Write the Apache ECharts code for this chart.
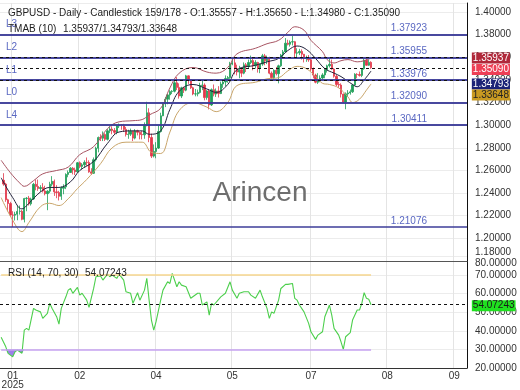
<!DOCTYPE html>
<html><head><meta charset="utf-8">
<script src="https://cdn.jsdelivr.net/npm/echarts@6/dist/echarts.min.js"></script>
<style>html,body{margin:0;padding:0;background:#fff}#c{width:520px;height:390px}</style>
</head><body><div id="c"></div>
<script>
// ---------- data ----------
const slotCount = 202;      // category slots on the time axis (incl. empty future)
const firstSlot = 1;        // slot of first daily bar
const open = [1.2513,1.2480,1.2341,1.2308,1.2207,1.2205,1.2213,1.2238,1.2239,1.2168,
1.2352,1.2355,1.2305,1.2348,1.2478,1.2459,1.2441,1.2449,1.2419,1.2395,
1.2417,1.2479,1.2504,1.2411,1.2405,1.2372,1.2443,1.2455,1.2565,1.2582,
1.2620,1.2605,1.2588,1.2668,1.2636,1.2650,1.2672,1.2670,1.2588,1.2575,
1.2695,1.2797,1.2891,1.2885,1.2918,1.2875,1.2950,1.2966,1.2953,1.2937,
1.2993,1.3000,1.2999,1.2963,1.2918,1.2921,1.2947,1.2886,1.2950,1.2937,
1.2918,1.2915,1.2997,1.3110,1.2891,1.2727,1.2768,1.2798,1.2944,1.3083,
1.3188,1.3230,1.3268,1.3297,1.3300,1.3375,1.3334,1.3258,1.3330,1.3310,
1.3436,1.3402,1.3331,1.3276,1.3277,1.3290,1.3352,1.3355,1.3244,1.3302,
1.3179,1.3314,1.3275,1.3303,1.3280,1.3364,1.3382,1.3412,1.3421,1.3540,
1.3551,1.3500,1.3470,1.3490,1.3460,1.3534,1.3518,1.3554,1.3571,1.3525,
1.3555,1.3500,1.3540,1.3613,1.3570,1.3582,1.3460,1.3420,1.3485,1.3455,
1.3525,1.3620,1.3648,1.3725,1.3715,1.3735,1.3738,1.3637,1.3640,1.3652,
1.3627,1.3590,1.3595,1.3578,1.3497,1.3443,1.3380,1.3404,1.3417,1.3444,
1.3490,1.3525,1.3538,1.3496,1.3433,1.3360,1.3355,1.3275,1.3205,1.3277,
1.3285,1.3295,1.3355,1.3450,1.3448,1.3440,1.3500,1.3575,1.3530,1.35557];
const close = [1.2480,1.2341,1.2308,1.2207,1.2205,1.2213,1.2238,1.2239,1.2168,1.2352,
1.2355,1.2305,1.2348,1.2478,1.2459,1.2441,1.2449,1.2419,1.2395,1.2417,
1.2479,1.2504,1.2411,1.2405,1.2372,1.2443,1.2455,1.2565,1.2582,1.2620,
1.2605,1.2588,1.2668,1.2636,1.2650,1.2672,1.2670,1.2588,1.2575,1.2695,
1.2797,1.2891,1.2885,1.2918,1.2875,1.2950,1.2966,1.2953,1.2937,1.2993,
1.3000,1.2999,1.2963,1.2918,1.2921,1.2947,1.2886,1.2950,1.2937,1.2918,
1.2915,1.2997,1.3110,1.2891,1.2727,1.2768,1.2798,1.2944,1.3083,1.3188,
1.3230,1.3268,1.3297,1.3300,1.3375,1.3334,1.3258,1.3330,1.3310,1.3436,
1.3402,1.3331,1.3276,1.3277,1.3290,1.3352,1.3355,1.3244,1.3302,1.3179,
1.3314,1.3275,1.3303,1.3280,1.3364,1.3382,1.3412,1.3421,1.3540,1.3551,
1.3500,1.3470,1.3490,1.3460,1.3534,1.3518,1.3554,1.3571,1.3525,1.3555,
1.3500,1.3540,1.3613,1.3570,1.3582,1.3460,1.3420,1.3485,1.3455,1.3525,
1.3620,1.3648,1.3725,1.3715,1.3735,1.3738,1.3637,1.3640,1.3652,1.3627,
1.3590,1.3595,1.3578,1.3497,1.3443,1.3380,1.3404,1.3417,1.3444,1.3490,
1.3525,1.3538,1.3496,1.3433,1.3360,1.3355,1.3275,1.3205,1.3277,1.3285,
1.3295,1.3355,1.3450,1.3448,1.3440,1.3500,1.3575,1.3530,1.3555,1.35090];
const low = [1.2465,1.2323,1.2239,1.2191,1.2100,1.2158,1.2160,1.2210,1.2160,1.2141,
1.2240,1.2290,1.2290,1.2340,1.2425,1.2420,1.2410,1.2405,1.2380,1.2249,
1.2400,1.2460,1.2375,1.2355,1.2335,1.2340,1.2390,1.2435,1.2540,1.2580,
1.2565,1.2560,1.2580,1.2620,1.2610,1.2625,1.2640,1.2580,1.2560,1.2570,
1.2680,1.2760,1.2860,1.2860,1.2860,1.2865,1.2930,1.2920,1.2920,1.2920,
1.2975,1.2960,1.2940,1.2900,1.2880,1.2905,1.2860,1.2875,1.2910,1.2875,
1.2875,1.2880,1.2990,1.2850,1.2710,1.2715,1.2708,1.2790,1.2935,1.3080,
1.3160,1.3185,1.3225,1.3275,1.3290,1.3310,1.3235,1.3240,1.3285,1.3300,
1.3365,1.3320,1.3265,1.3255,1.3255,1.3280,1.3310,1.3220,1.3225,1.3140,
1.3170,1.3255,1.3250,1.3245,1.3275,1.3330,1.3345,1.3375,1.3410,1.3530,
1.3450,1.3440,1.3415,1.3425,1.3450,1.3470,1.3500,1.3540,1.3485,1.3500,
1.3465,1.3460,1.3525,1.3530,1.3540,1.3450,1.3410,1.3405,1.3440,1.3370,
1.3515,1.3590,1.3645,1.3705,1.3695,1.3705,1.3600,1.3600,1.3620,1.3580,
1.3555,1.3560,1.3560,1.3480,1.3415,1.3370,1.3365,1.3380,1.3405,1.3415,
1.3465,1.3510,1.3490,1.3420,1.3345,1.3330,1.3245,1.3195,1.3141,1.3250,
1.3270,1.3285,1.3350,1.3415,1.3430,1.3425,1.3490,1.3525,1.3525,1.34980];
const high = [1.2576,1.2490,1.2350,1.2323,1.2240,1.2235,1.2290,1.2290,1.2250,1.2358,
1.2365,1.2375,1.2360,1.2490,1.2520,1.2520,1.2470,1.2488,1.2465,1.2426,
1.2500,1.2550,1.2520,1.2470,1.2420,1.2460,1.2478,1.2575,1.2600,1.2630,
1.2630,1.2625,1.2675,1.2680,1.2665,1.2690,1.2715,1.2690,1.2620,1.2715,
1.2810,1.2900,1.2920,1.2945,1.2930,1.2965,1.2990,1.2990,1.2975,1.3000,
1.3015,1.3010,1.3012,1.2985,1.2960,1.2970,1.2950,1.2965,1.2960,1.2945,
1.2950,1.3025,1.3207,1.3150,1.2925,1.2830,1.2850,1.3000,1.3110,1.3200,
1.3250,1.3280,1.3310,1.3310,1.3390,1.3425,1.3370,1.3340,1.3340,1.3445,
1.3440,1.3405,1.3340,1.3320,1.3315,1.3375,1.3400,1.3370,1.3310,1.3320,
1.3325,1.3360,1.3325,1.3345,1.3385,1.3400,1.3440,1.3435,1.3560,1.3590,
1.3595,1.3535,1.3525,1.3505,1.3555,1.3550,1.3580,1.3615,1.3600,1.3575,
1.3560,1.3545,1.3630,1.3630,1.3615,1.3605,1.3475,1.3495,1.3515,1.3535,
1.3630,1.3665,1.3770,1.3755,1.3750,1.3788,1.3745,1.3680,1.3675,1.3670,
1.3630,1.3615,1.3620,1.3590,1.3510,1.3455,1.3460,1.3440,1.3460,1.3500,
1.3535,1.3590,1.3580,1.3505,1.3445,1.3385,1.3370,1.3280,1.3290,1.3310,
1.3315,1.3365,1.3460,1.3460,1.3475,1.3505,1.3590,1.3595,1.3580,1.35650];

// TMA bands, read at anchor slots [slot, value]
const tmaUpper = [[0,1.269],[4,1.258],[8,1.249],[10,1.246],[14,1.251],[18,1.257],[24,1.260],[29,1.263],[34,1.274],[40,1.281],[46,1.297],[51,1.303],[57,1.304],[61,1.305],[64,1.309],[69,1.315],[73,1.333],[77,1.346],[83,1.351],[89,1.347],[93,1.346],[98,1.351],[102,1.363],[110,1.368],[115,1.372],[120,1.375],[124,1.382],[127,1.387],[131,1.384],[134,1.375],[139,1.365],[141,1.358],[144,1.355],[147,1.357],[150,1.358],[154,1.356],[157,1.357],[160,1.35937]];
const tmaMiddle = [[0,1.2535],[5,1.236],[9,1.226],[12,1.231],[17,1.241],[21,1.245],[25,1.245],[30,1.250],[34,1.260],[40,1.268],[46,1.284],[51,1.294],[57,1.295],[61,1.295],[64,1.292],[69,1.295],[73,1.314],[77,1.330],[83,1.336],[89,1.332],[93,1.329],[98,1.336],[102,1.349],[110,1.353],[115,1.356],[120,1.359],[124,1.366],[128,1.370],[132,1.367],[136,1.359],[140,1.350],[144,1.346],[147,1.343],[152,1.336],[154,1.334],[157,1.340],[160,1.34793]];
const tmaLower = [[0,1.236],[5,1.216],[9,1.206],[12,1.214],[17,1.228],[21,1.231],[25,1.229],[29,1.235],[33,1.244],[37,1.252],[43,1.266],[48,1.280],[54,1.285],[61,1.285],[65,1.276],[69,1.275],[73,1.294],[77,1.313],[83,1.320],[89,1.316],[93,1.312],[98,1.320],[102,1.335],[110,1.338],[115,1.341],[120,1.342],[124,1.348],[128,1.352],[132,1.350],[136,1.343],[139,1.337],[142,1.336],[146,1.333],[150,1.325],[152,1.320],[155,1.323],[158,1.331],[160,1.33648]];

// RSI(14) read at anchor slots [slot, value]
const rsi = [[0,36.5],[2,31.4],[3,27.9],[5,26],[6,28.7],[7,29.6],[9,27.9],[10,40.4],[11,41.3],[12,40.4],[14,52.1],[15,51.2],[17,50.2],[18,46.7],[20,49.4],[21,54.8],[22,52.1],[24,47.6],[25,43.6],[26,52.1],[28,58.3],[29,61.9],[30,62.8],[31,60.2],[33,63.4],[34,59.2],[35,60.2],[37,56.5],[38,52.6],[40,62.8],[41,69.1],[43,69.5],[44,67.3],[46,70.5],[47,69.1],[48,70],[50,68.2],[51,70.5],[53,67.3],[54,61],[56,60.2],[57,54.8],[59,60.5],[60,56.5],[62,61.9],[63,68.2],[64,56.5],[65,45.8],[66,40.4],[67,44.9],[69,56.5],[70,61.9],[72,66.4],[73,65.5],[74,70.9],[76,63.7],[77,66.4],[78,64.6],[80,63.7],[82,57.5],[85,60.2],[86,60.2],[87,53.9],[89,55.6],[90,48.5],[91,54.8],[92,53.9],[95,58.3],[97,60.2],[99,66.4],[100,61.9],[102,57.5],[103,60.2],[105,61],[107,61],[108,59.2],[110,57.5],[112,61.9],[113,58.3],[115,52.1],[116,46.7],[117,50.2],[118,49.4],[120,56.5],[121,62.8],[123,65],[124,65],[126,65.5],[127,57.5],[128,56.5],[129,53.9],[131,50.2],[133,44],[134,39.5],[136,35.4],[137,37.7],[139,39.5],[140,47.6],[142,53.9],[143,48.5],[144,41.3],[146,37.7],[147,34.1],[148,30],[149,36.8],[151,39],[152,45.8],[154,51.2],[155,51.2],[156,54.8],[157,60.5],[158,57.5],[159,57],[160,54.07243]];
const rsiLast = 54.07243;
const rsiLevels = [70, 30];

const tickSlots = [5, 34, 67, 100, 134, 167, 196];
const tickLabels = ['01\n2025', '02', '04', '05', '07', '08', '09'];

const levelNames = ['L3', 'L2', 'L1', 'L0', 'L4', ''];
const levelValues = [1.37923, 1.35955, 1.33976, 1.32090, 1.30411, 1.21076];
const markerValues = [1.35937, 1.35090, 1.34793, 1.33648];   // TMA upper, close, TMA mid, TMA lower

const headerLine1a = 'GBPUSD - Daily - Candlestick';
const headerLine1b = '159/178 - O:1.35557 - H:1.35650 - L:1.34980 - C:1.35090';
const headerLine2a = 'TMAB (10)';
const headerLine2b = '1.35937/1.34793/1.33648';
const rsiTitle = 'RSI (14, 70, 30)';
const watermark = 'Arincen';

// ---------- styles ----------
const FONT = 'Liberation Sans, Arial, sans-serif';
const markerStyles = [
  {bg:'#b0283a', fg:'#ffffff', shift:0},
  {bg:'#ee3f55', fg:'#ffffff', shift:2},
  {bg:'#1c2377', fg:'#ffffff', shift:13},
  {bg:'#c99a22', fg:'#222222', shift:11}
];

const categories = Array.from({length: slotCount}, (_, i) => String(i));
const tickMap = {};
tickSlots.forEach((s, i) => { tickMap[s] = tickLabels[i]; });
const isTick = (i) => tickMap[i] !== undefined;

const candleData = open.map((o, i) => [i + firstSlot, o, close[i], low[i], high[i]]);
const lastSlot = firstSlot + close.length - 1;

const levelColor = '#3c3c98';
const levelTextColor = '#5a68c2';
const mlData = [];
levelValues.forEach((v, i) => {
  if (levelNames[i]) {
    mlData.push({yAxis: v, lineStyle: {color: levelColor, width: 1.6, type: 'solid'},
      label: {show: true, position: 'insideStartTop', distance: [6, 5], formatter: levelNames[i],
              color: levelTextColor, fontSize: 10, fontFamily: FONT}});
  }
  mlData.push({yAxis: v, lineStyle: {color: levelColor, width: 1.6, type: 'solid'},
    label: {show: true, position: 'insideEndTop', distance: [40, 1], formatter: v.toFixed(5),
            color: levelTextColor, fontSize: 10, fontFamily: FONT}});
});
markerValues.forEach((v) => {
  mlData.push({yAxis: v, lineStyle: {color: '#111', width: 1, type: [3, 3]}, label: {show: false}});
});

const rsiMl = [
  [{coord: [0, rsiLevels[0]]}, {coord: [lastSlot, rsiLevels[0]]}],
  [{coord: [0, rsiLevels[1]]}, {coord: [lastSlot, rsiLevels[1]]}],
  {yAxis: rsiLast, lineStyle: {color: '#111', width: 1, type: [3, 3]}}
];
rsiMl[0][0].lineStyle = {color: '#f6d68e', width: 1.5, type: 'solid'};
rsiMl[1][0].lineStyle = {color: '#c6a2f0', width: 1.5, type: 'solid'};

const chart = echarts.init(document.getElementById('c'), null, {renderer: 'canvas'});
const option = {
  animation: false,
  backgroundColor: '#ffffff',
  textStyle: {fontFamily: FONT},
  grid: [
    {left: 0, right: 53, top: 3, height: 258, outerBoundsMode: 'none'},
    {left: 0, right: 53, top: 256.5, height: 111.5, outerBoundsMode: 'none'}
  ],
  xAxis: [
    {type: 'category', gridIndex: 0, data: categories, boundaryGap: true,
     axisLabel: {show: false}, axisTick: {show: false},
     axisLine: {show: true, lineStyle: {color: '#555', width: 1}},
     splitLine: {show: true, interval: (i) => isTick(i), lineStyle: {color: '#e4e4e4', width: 1}}},
    {type: 'category', gridIndex: 1, data: categories, boundaryGap: true,
     axisTick: {show: false},
     axisLine: {show: true, lineStyle: {color: '#333', width: 1}},
     axisLabel: {show: true, interval: (i) => isTick(i), formatter: (v, i) => tickMap[i] || '',
                 color: '#333', fontSize: 10, lineHeight: 9, margin: 4, fontFamily: FONT},
     splitLine: {show: true, interval: (i) => isTick(i), lineStyle: {color: '#e4e4e4', width: 1}}}
  ],
  yAxis: [
    {type: 'value', gridIndex: 0, position: 'right', min: 1.18, max: 1.408, interval: 0.02,
     axisLine: {show: true, lineStyle: {color: '#111', width: 1}}, axisTick: {show: false},
     splitLine: {show: true, lineStyle: {color: '#ececec', width: 1}},
     axisLabel: {showMaxLabel: false, showMinLabel: true, margin: 8, color: '#333', fontSize: 10, fontFamily: FONT,
       formatter: (v) => Math.abs(v - 1.18) < 1e-9 ? '{n|' + v.toFixed(5) + '}\n{s| }' : '{n|' + v.toFixed(5) + '}',
       rich: {n: {fontSize: 10, color: '#333', lineHeight: 10, fontFamily: FONT}, s: {fontSize: 1, lineHeight: 18}}}},
    {type: 'value', gridIndex: 1, position: 'right', min: 20, max: 80, interval: 10,
     axisLine: {show: true, lineStyle: {color: '#111', width: 1}}, axisTick: {show: false},
     splitLine: {show: true, lineStyle: {color: '#ececec', width: 1}},
     axisLabel: {showMaxLabel: true, margin: 8, color: '#333', fontSize: 10, fontFamily: FONT,
       formatter: (v) => Math.abs(v - 80) < 1e-9 ? '{s| }\n{n|' + v.toFixed(5) + '}' : '{n|' + v.toFixed(5) + '}',
       rich: {n: {fontSize: 10, color: '#333', lineHeight: 10, fontFamily: FONT}, s: {fontSize: 1, lineHeight: 13}}}}
  ],
  series: [
    {type: 'candlestick', xAxisIndex: 0, yAxisIndex: 0, data: candleData,
     encode: {x: 0, y: [1, 2, 3, 4]}, barWidth: 1.8,
     itemStyle: {color: '#1f9e58', color0: '#e2374a', borderColor: '#1f9e58', borderColor0: '#e2374a', borderWidth: 0.8},
     markLine: {silent: true, symbol: ['none', 'none'], animation: false, data: mlData}},
    {type: 'line', name: 'upper', xAxisIndex: 0, yAxisIndex: 0, data: tmaUpper, smooth: 0.4,
     showSymbol: false, lineStyle: {color: '#a85563', width: 1}},
    {type: 'line', name: 'middle', xAxisIndex: 0, yAxisIndex: 0, data: tmaMiddle, smooth: 0.4,
     showSymbol: false, lineStyle: {color: '#22223c', width: 1}},
    {type: 'line', name: 'lower', xAxisIndex: 0, yAxisIndex: 0, data: tmaLower, smooth: 0.4,
     showSymbol: false, lineStyle: {color: '#c9a56a', width: 1}},
    {type: 'line', name: 'rsiFill', xAxisIndex: 1, yAxisIndex: 1,
     data: rsi.map(p => [p[0], Math.min(p[1], 30)]), showSymbol: false,
     lineStyle: {width: 0, opacity: 0}, areaStyle: {origin: 30, color: '#9c80ea', opacity: 1}},
    {type: 'line', name: 'rsi', xAxisIndex: 1, yAxisIndex: 1, data: rsi, showSymbol: false,
     lineStyle: {color: '#4ccf4c', width: 1.1},
     markLine: {silent: true, symbol: ['none', 'none'], animation: false, label: {show: false}, data: rsiMl}}
  ],
  graphic: [
    {type: 'text', z: 100, style: {x: 260, y: 193, text: watermark, align: 'center', verticalAlign: 'middle',
      font: '28px ' + FONT, fill: '#6e6e6e'}},
    {type: 'text', z: 100, style: {x: 8, y: 13, text: headerLine1a, verticalAlign: 'middle', font: '10px ' + FONT, fill: '#222'}},
    {type: 'text', z: 100, style: {x: 145, y: 13, text: headerLine1b, verticalAlign: 'middle', font: '10px ' + FONT, fill: '#222'}},
    {type: 'text', z: 100, style: {x: 8, y: 29.5, text: headerLine2a, verticalAlign: 'middle', font: '10px ' + FONT, fill: '#222'}},
    {type: 'text', z: 100, style: {x: 63, y: 29.5, text: headerLine2b, verticalAlign: 'middle', font: '10px ' + FONT, fill: '#222'}},
    {type: 'text', z: 100, style: {x: 8, y: 273.5, text: rsiTitle, verticalAlign: 'middle', font: '10px ' + FONT, fill: '#222'}},
    {type: 'text', z: 100, style: {x: 85, y: 273.5, text: rsiLast.toFixed(5), verticalAlign: 'middle', font: '10px ' + FONT, fill: '#222'}}
  ]
};
chart.setOption(option);

// price tags on the right axis, placed from the axis scale (with small anti-overlap shifts)
const boxX = chart.convertToPixel({gridIndex: 0}, [slotCount - 1, markerValues[0]])[0] + 6;
const tags = markerValues.map((v, i) => {
  const y = chart.convertToPixel({yAxisIndex: 0}, v) + markerStyles[i].shift;
  return {type: 'text', z: 110, style: {x: boxX, y: y, text: v.toFixed(5), verticalAlign: 'middle',
    font: '10px ' + FONT, fill: markerStyles[i].fg, backgroundColor: markerStyles[i].bg, padding: [1, 1, 0, 1]}};
});
const rsiY = chart.convertToPixel({yAxisIndex: 1}, rsiLast) + 1;
tags.push({type: 'text', z: 110, style: {x: boxX, y: rsiY, text: rsiLast.toFixed(5), verticalAlign: 'middle',
  font: '10px ' + FONT, fill: '#1a1a1a', backgroundColor: '#1fe01f', padding: [1, 1, 0, 1]}});
chart.setOption({graphic: option.graphic.concat(tags)});
</script>
</body></html>
